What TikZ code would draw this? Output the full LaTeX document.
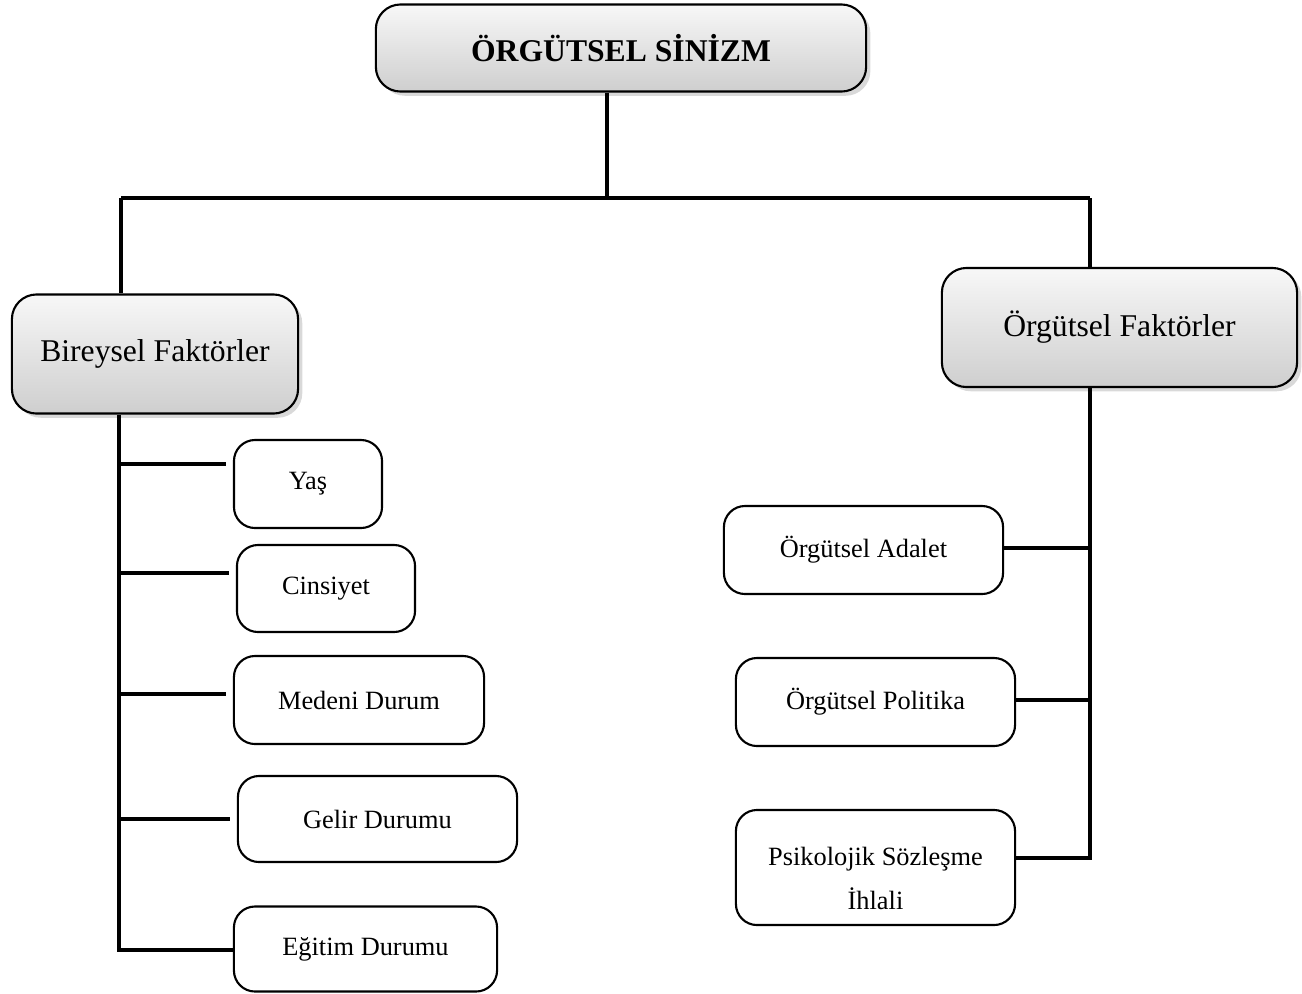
\documentclass[tikz,border=0pt]{standalone}
\usepackage{fontspec}
\setmainfont{Liberation Serif}
\usetikzlibrary{shadows}

\tikzset{
  mainbox/.style={draw, line width=0.6pt, rounded corners=7pt, top color=gray!6, bottom color=gray!38,
    drop shadow={opacity=0.3, shadow xshift=1.2pt, shadow yshift=-1.2pt},
    font=\fontsize{9}{11}\selectfont, inner sep=0pt},
  itembox/.style={draw, line width=0.6pt, rounded corners=6pt, fill=white,
    font=\fontsize{7.5}{12.5}\selectfont, align=center, inner sep=0pt},
  link/.style={line width=1pt}
}

\begin{document}
\begin{tikzpicture}[x=0.01cm, y=-0.01cm]
\useasboundingbox (0,0) rectangle (1302,993);
% main boxes
\node[mainbox, minimum width=4.9cm, minimum height=0.87cm, font=\bfseries\fontsize{9}{11}\selectfont] (sinizm) at (621,48) {ÖRGÜTSEL SİNİZM};
\node[mainbox, minimum width=2.86cm, minimum height=1.19cm] (bireysel) at (155,354) {Bireysel Faktörler};
\node[mainbox, minimum width=3.55cm, minimum height=1.19cm] (orgutsel) at (1119.5,327.5) {Örgütsel Faktörler};
% left items
\node[itembox, minimum width=1.48cm, minimum height=0.88cm] (yas) at (308,484) {Yaş};
\node[itembox, minimum width=1.78cm, minimum height=0.87cm] (cinsiyet) at (326,588.5) {Cinsiyet};
\node[itembox, minimum width=2.5cm, minimum height=0.88cm] (medeni) at (359,700) {Medeni Durum};
\node[itembox, minimum width=2.79cm, minimum height=0.86cm] (gelir) at (377.5,819) {Gelir Durumu};
\node[itembox, minimum width=2.63cm, minimum height=0.85cm] (egitim) at (365.5,949) {Eğitim Durumu};
% right items
\node[itembox, minimum width=2.79cm, minimum height=0.88cm] (adalet) at (863.5,550) {Örgütsel Adalet};
\node[itembox, minimum width=2.79cm, minimum height=0.88cm] (politika) at (875.5,702) {Örgütsel Politika};
\node[itembox, minimum width=2.79cm, minimum height=1.15cm,
  label={[font=\fontsize{7.5}{12.5}\selectfont, align=center, yshift=-0.11cm]center:Psikolojik Sözleşme\\İhlali}] (psiko) at (875.5,867.5) {};
% tree lines
\coordinate (split) at (607,198);
\coordinate (lt) at (121,198);
\coordinate (rt) at (1090,198);
\coordinate (lb) at (119,950);
\coordinate (rb) at (1090,860);
\draw[link] (sinizm.south -| split) -- (split);
\draw[link] (lt) -- (rt);
\draw[link] (lt) -- (bireysel.north -| lt);
\draw[link] (rt) -- (orgutsel.north -| rt);
\draw[link] (bireysel.south -| lb) -- (lb) -- (egitim.west |- lb);
\draw[link] (orgutsel.south -| rb) -- (rb);
\foreach \n/\y in {yas/464, cinsiyet/573, medeni/694, gelir/819}
  \draw[link] (119,\y) -- ([xshift=-2pt]\n.west |- 119,\y);
\foreach \n/\y in {adalet/548, politika/700, psiko/858}
  \draw[link] (\n.east |- 1090,\y) -- (1090,\y);
\end{tikzpicture}
\end{document}
